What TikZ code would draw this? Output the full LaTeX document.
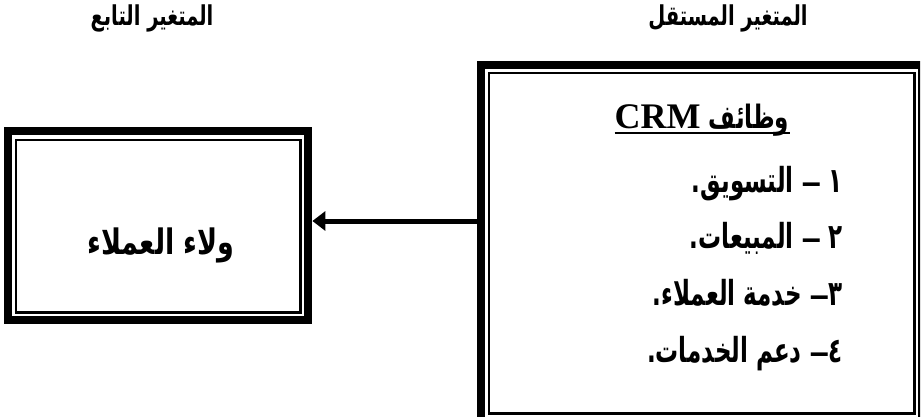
\documentclass[tikz,border=0pt]{standalone}
\usepackage{fontspec}
\setmainfont{Liberation Serif}
\newfontfamily\arabicfont[Script=Arabic]{DejaVu Sans}
\TeXXeTstate=1
\usetikzlibrary{arrows.meta}
\newcommand{\artext}[2][1.5]{\scalebox{1}[#1]{\beginR #2\endR}}
\newcommand{\dsh}{{\fontsize{19}{20}\selectfont —}}
\begin{document}
\begin{tikzpicture}[x=1pt,y=-1pt,
  thickborder/.style={line width=8pt},
  thinborder/.style={line width=2.4pt},
  hdr/.style={font=\arabicfont\bfseries\fontsize{19.5}{22}\selectfont, inner sep=0pt},
  body/.style={font=\arabicfont\bfseries\fontsize{23}{25}\selectfont, inner sep=0pt},
  big/.style={font=\arabicfont\bfseries\fontsize{27}{30}\selectfont, inner sep=0pt},
  conn/.style={line width=5pt, -{Triangle[length=13pt,width=19pt]}},
  boxarea/.style={draw=none, inner sep=0pt, anchor=north west}]
\useasboundingbox (0,0) rectangle (923,420);
\fill[white] (0,0) rectangle (923,420);
% box areas
\node[boxarea, minimum width=308pt, minimum height=197pt] (L) at (4,127) {};
\node[boxarea, minimum width=449pt, minimum height=364pt] (R) at (477,61) {};
% left box border
\draw[thickborder] ([shift={(4,4)}]L.north west) rectangle ([shift={(-4,-4)}]L.south east);
\draw[thinborder] ([shift={(12,13)}]L.north west) rectangle ([shift={(-12,-12)}]L.south east);
% right box border (cut by the picture edge)
\begin{scope}
\clip (0,0) rectangle (920,416);
\draw[thickborder] ([shift={(4,4)}]R.north west) rectangle ([shift={(-4,-4)}]R.south east);
\end{scope}
\draw[thinborder] ([shift={(12,12)}]R.north west) rectangle ([shift={(-12,-12)}]R.south east);
% connector
\coordinate (A) at (0,221);
\draw[conn] (R.west |- A) -- (L.east |- A);
% headers
\node[hdr, anchor=base] (hR) at (728,26) {\artext[1.4]{المتغير المستقل}};
\node[hdr, anchor=base] (hL) at (152,26) {\artext[1.4]{المتغير التابع}};
% left text
\node[big, anchor=base] (loy) at (161,254) {\artext[1.3]{ولاء العملاء}};
% right box text
\node[body, anchor=base] (title) at (702,128) {{\rmfamily\bfseries\fontsize{36}{38}\selectfont CRM}\hspace{8pt}\artext[1.4]{وظائف}};
\draw[line width=2pt] ([yshift=-5pt]title.base west) -- ([yshift=-5pt]title.base east);
\node[body, anchor=base east] (i1) at (843,192) {\artext{١ \dsh\ التسويق.}};
\node[body, anchor=base east] (i2) at (843,248) {\artext{٢ \dsh\ المبيعات.}};
\node[body, anchor=base east] (i3) at (843,305) {\artext{٣\dsh\ خدمة العملاء.}};
\node[body, anchor=base east] (i4) at (843,362) {\artext{٤\dsh\ دعم الخدمات.}};
\end{tikzpicture}
\end{document}
